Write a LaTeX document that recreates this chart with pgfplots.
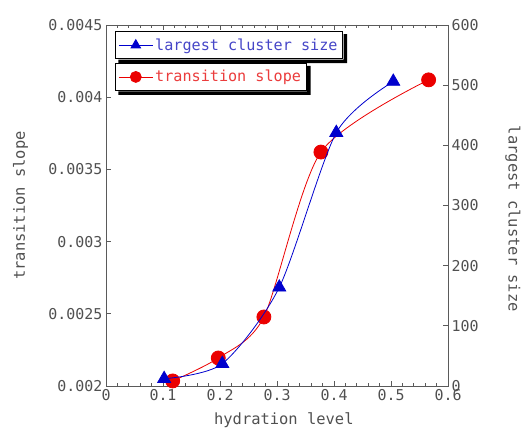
\documentclass[border=0pt]{standalone}
\usepackage{pgfplots}
\pgfplotsset{compat=1.18}
\usepackage{fontspec}
\setmainfont{DejaVu Sans Mono}
\definecolor{txt}{RGB}{80,80,80}
\definecolor{ax}{RGB}{90,90,90}
\definecolor{myred}{RGB}{235,0,0}
\definecolor{myblue}{RGB}{0,0,205}
\definecolor{ltred}{RGB}{235,60,60}
\definecolor{ltblue}{RGB}{70,70,200}
\pgfplotsset{
  common/.style={
    at={(106bp,47bp)}, anchor=south west, scale only axis,
    width=342bp, height=361bp,
    xmin=0, xmax=0.6,
    scaled y ticks=false, scaled x ticks=false,
    axis line style={ax, line width=0.9bp},
    tick style={ax, line width=0.7bp},
    major tick length=5bp, minor tick length=3bp,
    ticklabel style={font=\fontsize{15}{15}\selectfont, text=txt},
    label style={font=\fontsize{15.5}{16}\selectfont, text=txt},
    legend cell align=left,
    legend image code/.code={%
      \draw[#1, mark=none] (0bp,0bp) -- (34bp,0bp);
      \draw[#1, mark size=5.5bp, only marks] plot coordinates {(17bp,0bp)};},
  },
  lgd/.style 2 args={
    legend style={at={(axis description cs:#1)}, anchor=north west, name=#2,
      draw=black, line width=1bp, fill=white,
      font=\fontsize{15.2}{15.5}\selectfont,
      inner xsep=3bp, inner ysep=5bp},
  },
}
\begin{document}
\begin{tikzpicture}[x=1bp,y=1bp]
\useasboundingbox (0,0) rectangle (527,433);
% left axis: transition slope
\begin{axis}[common, lgd={0.026,0.895}{LB},
  ymin=0.002, ymax=0.0045,
  xtick={0,0.1,0.2,0.3,0.4,0.5,0.6},
  xticklabels={0,0.1,0.2,0.3,0.4,0.5,0.6},
  minor x tick num=4,
  ytick={0.002,0.0025,0.003,0.0035,0.004,0.0045},
  yticklabels={0.002,0.0025,0.003,0.0035,0.004,0.0045},
  ytick pos=left,
  xlabel={hydration level},
  ylabel={transition slope},
  xlabel style={at={(axis description cs:0.52,-0.094)}, anchor=center},
  ylabel style={at={(axis description cs:-0.25,0.5)}, anchor=center},
]
\addplot[myred, line width=0.8bp, smooth, tension=0.45, mark=*, mark size=7bp,
  mark options={fill=myred, draw=myred, solid}]
  coordinates {(0.117,0.002035) (0.197,0.002194) (0.277,0.002478) (0.377,0.00362) (0.566,0.00412)};
\addlegendentry{\textcolor{ltred}{transition slope}}
\end{axis}
% right axis: largest cluster size
\begin{axis}[common, lgd={0.026,0.983}{LA},
  axis x line=none,
  axis y line*=right,
  ymin=0, ymax=600,
  ytick={0,100,200,300,400,500,600},
  yticklabels={0,100,200,300,400,500,600},
  ylabel={largest cluster size},
  ylabel style={at={(axis description cs:1.19,0.463)}, anchor=center, rotate=180},
]
\addplot[myblue, line width=0.8bp, smooth, tension=0.45, mark=triangle*, mark size=7.5bp,
  mark options={fill=myblue, draw=myblue, solid}]
  coordinates {(0.102,12) (0.204,37) (0.304,164) (0.404,421) (0.504,506)};
\addlegendentry{\textcolor{ltblue}{largest cluster size}}
\end{axis}
% box shadows of the two legends
\foreach \L in {LA,LB}{
  \fill[black] ([xshift=0.5bp,yshift=-0.5bp]\L.south west) ++(3bp,0) -- ++(0,-3.5bp)
    -- ([xshift=4bp,yshift=-4bp]\L.south east) -- ([xshift=4bp,yshift=-3bp]\L.north east)
    -- ([xshift=0.5bp,yshift=-3bp]\L.north east) -- ([xshift=0.5bp,yshift=-0.5bp]\L.south east) -- cycle;
}
\end{tikzpicture}
\end{document}
